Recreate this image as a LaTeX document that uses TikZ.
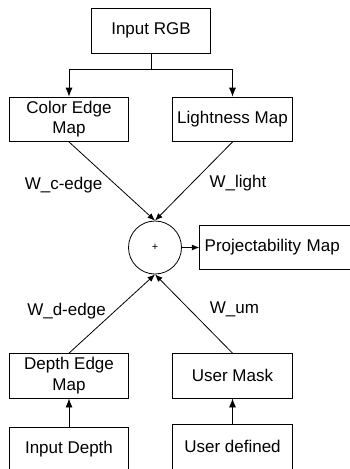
\documentclass[tikz,border=0pt]{standalone}
\usepackage{fontspec}
\setmainfont{Liberation Sans}
\usepackage{tikz}
\usetikzlibrary{arrows.meta}

\tikzset{
	blk/.style={draw, rectangle, minimum width=119.5pt, minimum height=44.5pt, inner sep=2pt, align=center},
	arr/.style={-{Latex[length=9pt,width=7pt]}},
	sarr/.style={-{Latex[length=7.5pt,width=6pt]}},
	wlab/.style={inner sep=0pt}
}

\begin{document}
\begin{tikzpicture}[x=1pt,y=-1pt,line width=0.8pt,font=\fontsize{17}{20.5}\selectfont]
	\useasboundingbox (0,0) rectangle (349,469);

	\node[blk] (rgb) at (151,30.8) {Input RGB};
	\node[blk] (cedge) at (69,119.3) {Color Edge\\Map};
	\node[blk] (light) at (232.5,119.3) {Lightness Map};
	\node[draw,circle,minimum size=53pt,inner sep=0pt,font=\fontsize{11}{13}\selectfont] (sum) at (155,247.5) {+};
	\node[blk,anchor=west,minimum width=160pt,minimum height=43.5pt,align=left,text width=150pt] (proj) at (199.3,247.5) {Projectability Map};
	\node[blk] (dedge) at (69,375.8) {Depth Edge\\Map};
	\node[blk] (umask) at (232.5,375.8) {User Mask};
	\node[blk] (idepth) at (69,449.2) {Input Depth};
	\node[blk] (udef) at (232.5,446.8) {User defined};

	\coordinate (split) at (151,69.3);
	\draw (rgb.south) -- (split);
	\draw [arr] (split) -| (cedge.north);
	\draw [arr] (split) -| (light.north);

	\draw [sarr] (cedge.south) -- (sum.north);
	\draw [sarr] (light.south) -- (sum.north);
	\draw [sarr] (dedge.north) -- (sum.south);
	\draw [sarr] (umask.north) -- (sum.south);
	\draw [sarr] (sum.east) -- (proj.west);

	\draw [arr] (idepth.north) -- (dedge.south);
	\draw [arr] (udef.north) -- (umask.south);

	\node[wlab] (wc) at (63.5,185) {W\_c-edge};
	\node[wlab] (wl) at (238,183.5) {W\_light};
	\node[wlab] (wd) at (66.5,311) {W\_d-edge};
	\node[wlab] (wu) at (234.5,309) {W\_um};
\end{tikzpicture}
\end{document}
